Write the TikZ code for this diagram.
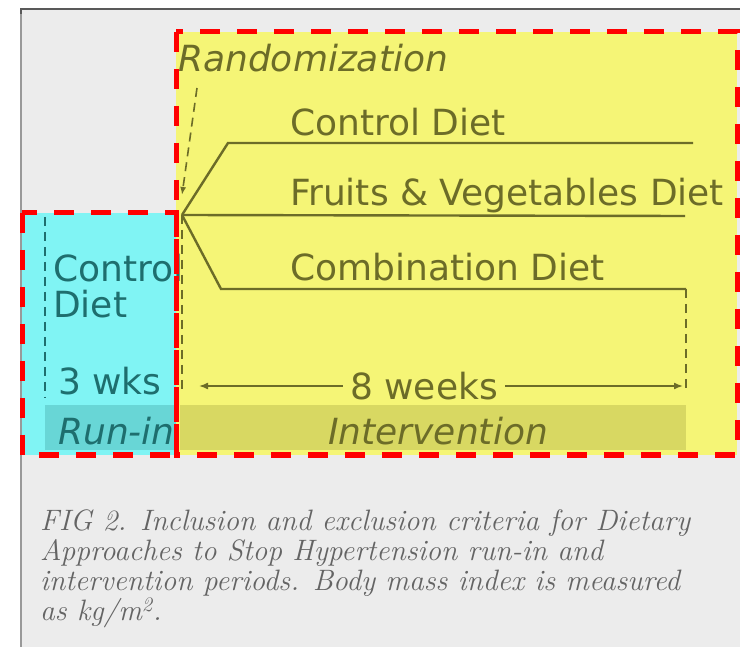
\documentclass[tikz,border=0pt]{standalone}
\usepackage{fontspec}
\newfontfamily\diagfont{DejaVu Sans}
\definecolor{pageGray}{RGB}{236,236,236}
\definecolor{hlYellow}{RGB}{245,245,118}
\definecolor{hlCyan}{RGB}{128,244,244}
\definecolor{barYellow}{RGB}{216,216,98}
\definecolor{barCyan}{RGB}{104,214,214}
\definecolor{inkOlive}{RGB}{108,108,40}
\definecolor{inkTeal}{RGB}{30,110,110}
\definecolor{capGray}{RGB}{100,100,100}
\usetikzlibrary{arrows.meta, positioning, calc}

\tikzset{
  hlbox/.style={draw=red, line width=5pt, dash pattern=on 20pt off 17pt},
  diet/.style={font=\diagfont\fontsize{36}{36}\selectfont, text=inkOlive, anchor=base west, inner sep=0pt},
  runtext/.style={diet, text=inkTeal},
  branch/.style={draw=inkOlive, line width=2.4pt},
  period/.style={draw=inkOlive, line width=1.6pt, dash pattern=on 9pt off 6pt},
  span/.style={draw=inkOlive, line width=1.6pt, -{Latex[length=9pt,width=7pt]}}
}

\begin{document}
\begin{tikzpicture}[x=1pt, y=-1pt]
    \useasboundingbox (0,0) rectangle (740,647);
    % scanned page
    \fill[white] (0,0) rectangle (740,647);
    \fill[pageGray] (22,9) rectangle (740,647);
    \draw[line width=2.5pt, black!65] (21,14) -- (21,9) -- (740,9);
    \draw[line width=2pt, black!40] (21,14) -- (21,647);

    % highlighted regions
    \fill[hlCyan] (22,213) rectangle (176,455);
    \fill[hlYellow] (176,32) rectangle (737,455);
    \fill[barCyan] (45,405) rectangle (176,450);
    \fill[barYellow] (180,405) rectangle (686,450);

    % run-in period
    \node[runtext] (rctrl) at (53,282) {Control};
    \node[runtext] (rdiet) at (53,318) {Diet};
    \node[runtext] (wks) at (58,395) {3 wks};
    \node[runtext, font=\diagfont\itshape\fontsize{36}{36}\selectfont] (runin) at (58,445) {Run-in};
    \coordinate (rtop) at (45,217);
    \coordinate (rbot) at (45,398);
    \draw[period, draw=inkTeal] (rtop) -- (rbot);

    % randomization and diets
    \node[diet, font=\diagfont\itshape\fontsize{36}{36}\selectfont] (rand) at (178,72) {Randomization};
    \node[diet] (ctrl) at (290,136) {Control Diet};
    \node[diet] (fv) at (290,206) {Fruits \& Vegetables Diet};
    \node[diet] (comb) at (290,281) {Combination Diet};
    \coordinate (rfrom) at (197,88);
    \coordinate (split) at (182,215);
    \coordinate (ctrlK) at (228,143);
    \coordinate (ctrlE) at (693,143);
    \coordinate (fvE) at (685,216);
    \coordinate (combK) at (221,289);
    \coordinate (combE) at (686,289);
    \coordinate (iend) at (686,392);
    \coordinate (ibot) at (182,394);
    \draw[period, -{Latex[length=8pt,width=6pt]}] (rfrom) -- ($(split)+(0,-20)$);
    \draw[branch] (split) -- (ctrlK) -- (ctrlE);
    \draw[branch] (split) -- (fvE);
    \draw[branch] (split) -- (combK) -- (combE);
    \draw[period] (combE) -- (iend);
    \draw[period] (split) -- (ibot);

    % intervention period
    \node[diet, anchor=base, inner xsep=7pt] (weeks) at (424,400) {8 weeks};
    \coordinate (wkL) at (199,386);
    \coordinate (wkR) at (683,386);
    \draw[span] (weeks.west |- wkL) -- (wkL);
    \draw[span] (weeks.east |- wkR) -- (wkR);
    \node[diet, anchor=base, font=\diagfont\itshape\fontsize{36}{36}\selectfont] (interv) at (438,445) {Intervention};

    % highlight borders
    \draw[hlbox] (22,213) rectangle (176,455);
    \draw[hlbox] (176,32) rectangle (737,455);

    % caption
    \node[anchor=north west, align=left, inner sep=0pt, text=capGray,
          font=\fontsize{29.5}{30}\selectfont\itshape] (cap) at (40,510)
      {FIG 2. Inclusion and exclusion criteria for Dietary\\
       Approaches to Stop Hypertension run-in and\\
       intervention periods. Body mass index is measured\\
       as kg/m\textsuperscript{2}.};
\end{tikzpicture}
\end{document}
